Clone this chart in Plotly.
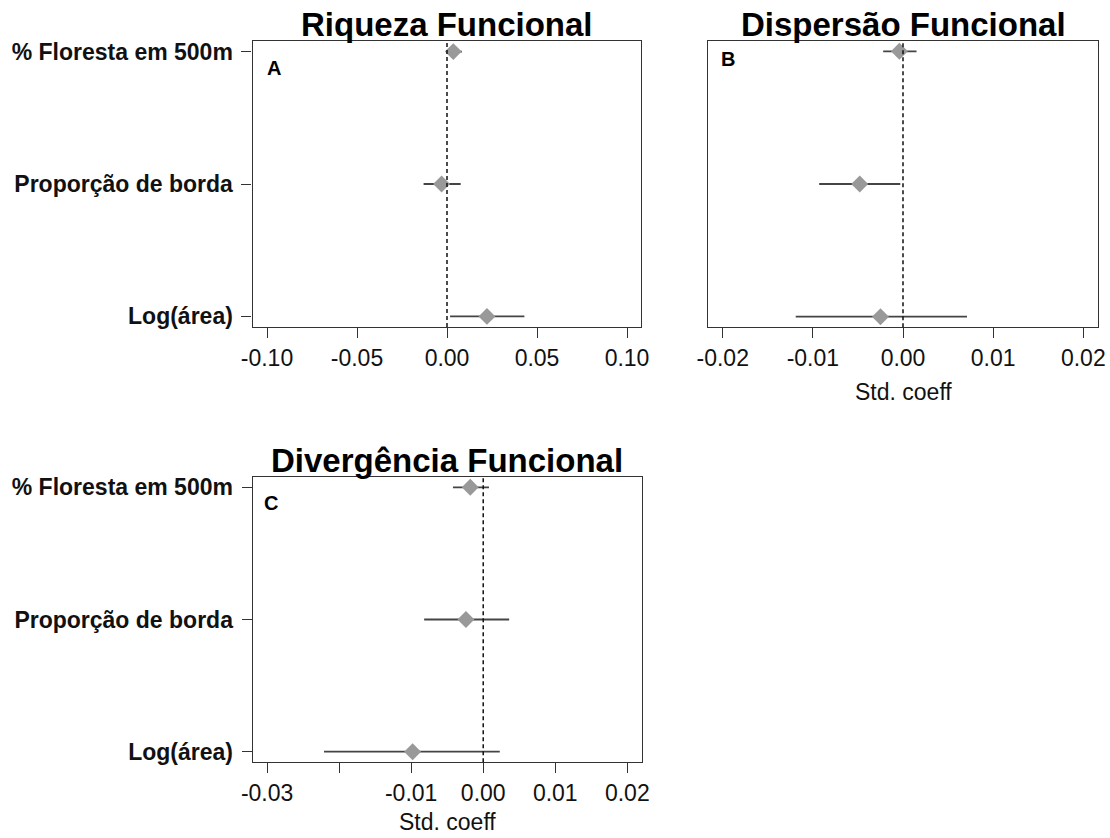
import plotly.graph_objects as go

W, H = 1110, 838

# ---------------- data ----------------
predictors = ["Log(área)", "Proporção de borda", "% Floresta em 500m"]
pred_pos = [1, 2, 3]

# Riqueza Funcional (A)
rich_est = [0.0222, -0.0030, 0.0035]
rich_lo = [0.0017, -0.0130, 0.0000]
rich_hi = [0.0430, 0.0076, 0.0083]

# Dispersão Funcional (B)
disp_est = [-0.0025, -0.0048, -0.0004]
disp_lo = [-0.0119, -0.0093, -0.0022]
disp_hi = [0.0071, -0.0003, 0.0015]

# Divergência Funcional (C)
div_est = [-0.0098, -0.0024, -0.0018]
div_lo = [-0.0221, -0.0082, -0.0042]
div_hi = [0.0023, 0.0036, 0.0008]

xticks_A = [-0.10, -0.05, 0.00, 0.05, 0.10]
xticklabels_A = ["-0.10", "-0.05", "0.00", "0.05", "0.10"]
xticks_B = [-0.02, -0.01, 0.00, 0.01, 0.02]
xticklabels_B = ["-0.02", "-0.01", "0.00", "0.01", "0.02"]
xticks_C = [-0.03, -0.02, -0.01, 0.00, 0.01, 0.02]
xticklabels_C = ["-0.03", "", "-0.01", "0.00", "0.01", "0.02"]

titles = ["Riqueza Funcional", "Dispersão Funcional", "Divergência Funcional"]
letters = ["A", "B", "C"]
xlabel = "Std. coeff"

FONT = "Liberation Sans, Arial, sans-serif"
LINE = "#333333"

# panel pixel boxes (left, right, top, bottom)
boxes = [(252.6, 641.4, 41.0, 327.0),
         (708.3, 1097.7, 40.7, 327.3),
         (252.7, 641.7, 476.7, 762.3)]
xranges = [[-0.108, 0.108], [-0.0216, 0.0216], [-0.032, 0.022]]


def px_x(v):
    return v / W


def px_y(v):
    return 1 - v / H


fig = go.Figure()
panels = [
    (rich_est, rich_lo, rich_hi, xticks_A, xticklabels_A, True),
    (disp_est, disp_lo, disp_hi, xticks_B, xticklabels_B, False),
    (div_est, div_lo, div_hi, xticks_C, xticklabels_C, True),
]

annotations = []
shapes = []
for i, (est, lo, hi, xt, xtl, show_y) in enumerate(panels):
    n = "" if i == 0 else str(i + 1)
    xa, ya = "x" + n, "y" + n
    l, r, t, b = boxes[i]
    plus = [h - e for h, e in zip(hi, est)]
    minus = [e - lo_ for e, lo_ in zip(est, lo)]
    fig.add_trace(go.Scatter(
        x=est, y=pred_pos, mode="markers", xaxis=xa, yaxis=ya,
        marker=dict(symbol="diamond", size=13, color="#999999", line=dict(width=0)),
        error_x=dict(type="data", symmetric=False, array=plus, arrayminus=minus,
                     color="#444444", thickness=1.8, width=0),
        showlegend=False, hoverinfo="x+y",
    ))
    fig.layout["xaxis" + n] = dict(
        domain=[px_x(l), px_x(r)], anchor=ya, range=xranges[i], automargin=False,
        tickvals=xt, ticktext=xtl, ticks="outside", ticklen=10, tickwidth=1.2,
        tickcolor=LINE, showline=True, linecolor=LINE, linewidth=1.3, mirror=True,
        showgrid=False, zeroline=False,
        tickfont=dict(family=FONT, size=23, color="#111111"),
    )
    fig.layout["yaxis" + n] = dict(
        domain=[px_y(b), px_y(t)], anchor=xa, range=[0.92, 3.08], automargin=False,
        tickvals=pred_pos if show_y else [], ticktext=predictors if show_y else [],
        ticks="outside" if show_y else "", ticklen=10, tickwidth=1.2, tickcolor=LINE,
        showline=True, linecolor=LINE, linewidth=1.3, mirror=True,
        showgrid=False, zeroline=False, ticklabelstandoff=4,
        tickfont=dict(family=FONT, size=23, color="#111111", weight="bold"),
    )
    # dashed zero line
    shapes.append(dict(type="line", xref=xa, yref=ya + " domain", x0=0, x1=0, y0=0, y1=1,
                       line=dict(color="#111111", width=1.5, dash="4px,3px")))
    # title
    annotations.append(dict(text=titles[i], xref="paper", yref="paper",
                            x=px_x((l + r) / 2), y=px_y(t), xanchor="center", yanchor="bottom",
                            yshift=-4, showarrow=False,
                            font=dict(family=FONT, size=33, color="#000000", weight="bold")))

# panel letters
letter_pos = [(274, 68), (727.5, 59), (270.8, 502.5)]
for (lx, ly), lt in zip(letter_pos, letters):
    annotations.append(dict(text=lt, xref="paper", yref="paper", x=px_x(lx), y=px_y(ly),
                            xanchor="center", yanchor="middle", showarrow=False,
                            font=dict(family=FONT, size=20, color="#000000", weight="bold")))

# x axis labels
for (cx, cy) in [(903.0, 392.0), (447.2, 822.0)]:
    annotations.append(dict(text=xlabel, xref="paper", yref="paper", x=px_x(cx), y=px_y(cy),
                            xanchor="center", yanchor="middle", showarrow=False,
                            font=dict(family=FONT, size=23, color="#111111")))

fig.update_layout(
    width=W, height=H, margin=dict(l=0, r=0, t=0, b=0),
    paper_bgcolor="white", plot_bgcolor="white",
    annotations=annotations, shapes=shapes,
)

fig.write_html("out.html")
